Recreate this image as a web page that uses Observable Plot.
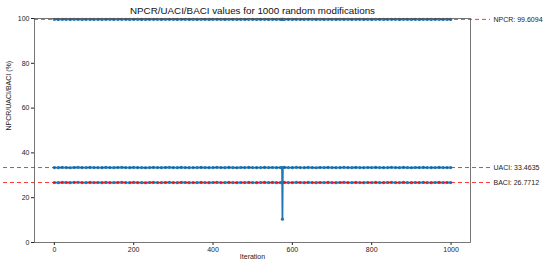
<!DOCTYPE html>
<html><head><meta charset="utf-8">
<script src="https://cdn.jsdelivr.net/npm/d3@7"></script>
<script src="https://cdn.jsdelivr.net/npm/@observablehq/plot@0.6"></script>
<style>body{margin:0;background:#fff;font-family:"Liberation Sans",Arial,sans-serif}</style>
</head><body><div id="chart"></div>
<script>
const iterations = [0,10,20,30,40,50,60,70,80,90,100,110,120,130,140,150,160,170,180,190,200,210,220,230,240,250,260,270,280,290,300,310,320,330,340,350,360,370,380,390,400,410,420,430,440,450,460,470,480,490,500,510,520,530,540,550,560,570,574,575,576,580,590,600,610,620,630,640,650,660,670,680,690,700,710,720,730,740,750,760,770,780,790,800,810,820,830,840,850,860,870,880,890,900,910,920,930,940,950,960,970,980,990,999];
const npcr = [
99.61,99.60,99.62,99.61,99.59,99.61,99.63,99.60,99.61,99.62,
99.60,99.61,99.59,99.62,99.61,99.60,99.61,99.63,99.61,99.60,
99.62,99.61,99.60,99.59,99.61,99.62,99.61,99.60,99.61,99.63,
99.61,99.60,99.62,99.61,99.59,99.61,99.60,99.62,99.61,99.60,
99.61,99.63,99.61,99.60,99.62,99.61,99.59,99.61,99.60,99.62,
99.61,99.60,99.61,99.62,99.60,99.61,99.59,99.61,99.61,99.60,99.60,99.62,
99.61,99.60,99.63,99.61,99.60,99.62,99.61,99.59,99.61,99.60,
99.62,99.61,99.60,99.61,99.63,99.61,99.60,99.62,99.61,99.59,
99.61,99.60,99.62,99.61,99.60,99.61,99.63,99.61,99.60,99.62,
99.61,99.59,99.61,99.60,99.62,99.61,99.60,99.61,99.62,99.60,
99.61,99.60];
const uaci = [
33.46,33.41,33.52,33.47,33.38,33.49,33.55,33.43,33.46,33.51,
33.44,33.47,33.39,33.53,33.46,33.42,33.48,33.56,33.45,33.41,
33.50,33.46,33.43,33.37,33.47,33.52,33.45,33.42,33.48,33.54,
33.46,33.40,33.51,33.47,33.39,33.45,33.43,33.52,33.46,33.41,
33.47,33.55,33.44,33.42,33.50,33.46,33.38,33.48,33.43,33.53,
33.46,33.41,33.47,33.52,33.44,33.49,33.39,33.46,33.45,10.42,33.48,33.50,
33.45,33.42,33.55,33.47,33.41,33.51,33.46,33.38,33.48,33.43,
33.52,33.46,33.41,33.47,33.56,33.45,33.42,33.50,33.46,33.39,
33.48,33.43,33.53,33.46,33.41,33.47,33.55,33.44,33.42,33.51,
33.46,33.38,33.48,33.43,33.52,33.46,33.41,33.47,33.53,33.44,
33.47,33.45];
const baci = [
26.77,26.72,26.83,26.78,26.69,26.80,26.86,26.74,26.77,26.82,
26.75,26.78,26.70,26.84,26.77,26.73,26.79,26.87,26.76,26.72,
26.81,26.77,26.74,26.68,26.78,26.83,26.76,26.73,26.79,26.85,
26.77,26.71,26.82,26.78,26.70,26.76,26.74,26.83,26.77,26.72,
26.78,26.86,26.75,26.73,26.81,26.77,26.69,26.79,26.74,26.84,
26.77,26.72,26.78,26.83,26.75,26.80,26.70,26.77,26.78,26.76,26.74,26.81,
26.76,26.73,26.86,26.78,26.72,26.82,26.77,26.69,26.79,26.74,
26.83,26.77,26.72,26.78,26.87,26.76,26.73,26.81,26.77,26.70,
26.79,26.74,26.84,26.77,26.72,26.78,26.86,26.75,26.73,26.82,
26.77,26.69,26.79,26.74,26.83,26.77,26.72,26.78,26.84,26.75,
26.78,26.76];
const refNames = ["NPCR","UACI","BACI"];
const refValues = [99.6094,33.4635,26.7712];
const xTicks = [0,200,400,600,800,1000];
const yTicks = [0,20,40,60,80,100];
const titleText = "NPCR/UACI/BACI values for 1000 random modifications";

const series = [npcr, uaci, baci].map((vals, k) => iterations.map((it, i) => ({s: k, x: it, y: vals[i]})));
const pts = series.flat();
const refs = refNames.map((n, i) => ({name: n, v: refValues[i], left: i === 0 ? 0 : 1}));

const W = 550, H = 265, mL = 34, mR = 80, mT = 18, mB = 23;
const xDom = [-50, 1049];
const upp = (xDom[1] - xDom[0]) / (W - mL - mR);
const px2x = p => xDom[0] + (p - mL) * upp;

const blue = "#1f77b4";
const red = "#ff0000";
const plot = Plot.plot({
  width: W, height: H,
  marginLeft: mL, marginRight: mR, marginTop: mT, marginBottom: mB,
  style: {fontFamily: "'Liberation Sans', Arial, sans-serif", fontSize: "7px", color: "#222", background: "#fff"},
  x: {domain: xDom, label: null},
  y: {domain: [0, 100], label: null},
  marks: [
    Plot.axisX({ticks: xTicks, tickSize: 3, tickPadding: 1.5, tickFormat: d3.format("d"), label: null, fontSize: 7}),
    Plot.axisY({ticks: yTicks, tickSize: 3, tickPadding: 2, tickFormat: d3.format("d"), label: null, fontSize: 7}),
    ...series.map(d => Plot.line(d, {x: "x", y: "y", stroke: blue, strokeWidth: 1.8})),
    Plot.dot(pts, {x: "x", y: "y", r: 1.6, fill: blue, stroke: "none"}),
    Plot.ruleY(refs, {y: "v", x1: d => d.left ? px2x(3) : xDom[0], x2: px2x(490), stroke: red, strokeWidth: 1, strokeOpacity: 0.8, strokeDasharray: "4,3"}),
    Plot.text(refs, {x: px2x(493), y: "v", text: d => `${d.name}: ${d.v}`, textAnchor: "start", fontSize: 7, fill: "#222"}),
    Plot.frame({stroke: "#555", strokeWidth: 0.8}),
    Plot.text([titleText], {frameAnchor: "top", dy: -11, text: d => d, fontSize: 9.8, fill: "#111"}),
    Plot.text(["Iteration"], {frameAnchor: "bottom", dy: 16, text: d => d, fontSize: 7, fill: "#222"}),
    Plot.text(["NPCR/UACI/BACI (%)"], {frameAnchor: "left", dx: -26, rotate: -90, text: d => d, fontSize: 7, fill: "#222"})
  ]
});
document.getElementById("chart").appendChild(plot);
</script>
</body></html>
